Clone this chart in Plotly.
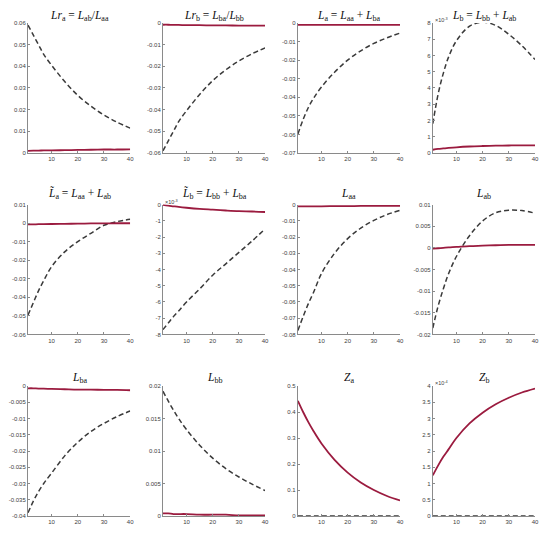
import plotly.graph_objects as go
from plotly.subplots import make_subplots

t = [1, 3, 5, 7, 10, 15, 20, 25, 30, 35, 40]

# dashed (grey) and solid (red) responses, one pair per panel
lra_dash = [0.059, 0.0545, 0.050, 0.0455, 0.0405, 0.033, 0.0266, 0.0216, 0.0175, 0.0142, 0.0115]
lra_solid = [0.0010, 0.0011, 0.0011, 0.0012, 0.0012, 0.0013, 0.0014, 0.0015, 0.0016, 0.0016, 0.0017]

lrb_dash = [-0.059, -0.0545, -0.050, -0.0455, -0.0405, -0.033, -0.0266, -0.0216, -0.0175, -0.0142, -0.0115]
lrb_solid = [-0.0008, -0.0008, -0.0009, -0.0009, -0.0010, -0.0010, -0.0011, -0.0011, -0.0012, -0.0012, -0.0012]

la_dash = [-0.0598, -0.052, -0.0455, -0.0405, -0.0345, -0.0265, -0.020, -0.015, -0.011, -0.008, -0.0054]
la_solid = [-0.0010, -0.0010, -0.0010, -0.0010, -0.0010, -0.0010, -0.0010, -0.0010, -0.0010, -0.0010, -0.0010]

lb_dash = [1.8e-3, 3.6e-3, 4.9e-3, 5.9e-3, 6.9e-3, 7.8e-3, 8.05e-3, 7.85e-3, 7.3e-3, 6.6e-3, 5.75e-3]
lb_solid = [0.20e-3, 0.25e-3, 0.28e-3, 0.31e-3, 0.35e-3, 0.40e-3, 0.43e-3, 0.45e-3, 0.46e-3, 0.47e-3, 0.47e-3]

lta_dash = [-0.0495, -0.043, -0.0365, -0.031, -0.0235, -0.0155, -0.0100, -0.0055, -0.0012, 0.0008, 0.0020]
lta_solid = [-0.0007, -0.0007, -0.0006, -0.0006, -0.0005, -0.0004, -0.0003, -0.0002, -0.0002, -0.0001, -0.0001]

ltb_dash = [-7.7e-3, -7.3e-3, -6.9e-3, -6.55e-3, -6.0e-3, -5.2e-3, -4.35e-3, -3.65e-3, -2.95e-3, -2.25e-3, -1.5e-3]
ltb_solid = [-0.02e-3, -0.07e-3, -0.11e-3, -0.15e-3, -0.20e-3, -0.27e-3, -0.32e-3, -0.37e-3, -0.41e-3, -0.43e-3, -0.46e-3]

laa_dash = [-0.0775, -0.069, -0.061, -0.054, -0.0425, -0.030, -0.021, -0.0145, -0.0098, -0.0062, -0.0036]
laa_solid = [-0.0012, -0.0012, -0.0011, -0.0011, -0.0011, -0.0010, -0.0010, -0.0009, -0.0009, -0.0008, -0.0008]

lab_dash = [-0.0185, -0.0135, -0.0095, -0.006, -0.002, 0.0028, 0.0062, 0.0081, 0.0087, 0.0086, 0.0080]
lab_solid = [-0.0002, -0.0001, 0.0000, 0.0001, 0.0002, 0.0004, 0.0005, 0.0006, 0.0007, 0.0007, 0.0007]

lba_dash = [-0.039, -0.0355, -0.0325, -0.030, -0.0268, -0.0215, -0.0173, -0.014, -0.0115, -0.0094, -0.0077]
lba_solid = [-0.0007, -0.0007, -0.0008, -0.0008, -0.0009, -0.0010, -0.0011, -0.0011, -0.0012, -0.0012, -0.0013]

lbb_dash = [0.0192, 0.0177, 0.0163, 0.015, 0.0133, 0.0109, 0.0089, 0.0073, 0.006, 0.0049, 0.0039]
lbb_solid = [0.0004, 0.0004, 0.0003, 0.0003, 0.0003, 0.0002, 0.0002, 0.0002, 0.0001, 0.0001, 0.0001]

za_dash = [0, 0, 0, 0, 0, 0, 0, 0, 0, 0, 0]
za_solid = [0.443, 0.400, 0.361, 0.326, 0.279, 0.216, 0.167, 0.129, 0.100, 0.077, 0.060]

zb_dash = [0, 0, 0, 0, 0, 0, 0, 0, 0, 0, 0]
zb_solid = [1.25e-4, 1.55e-4, 1.82e-4, 2.05e-4, 2.40e-4, 2.85e-4, 3.18e-4, 3.44e-4, 3.64e-4, 3.80e-4, 3.92e-4]

titles = [
    "<i>Lr</i><sub>a</sub> = <i>L</i><sub>ab</sub>/<i>L</i><sub>aa</sub>",
    "<i>Lr</i><sub>b</sub> = <i>L</i><sub>ba</sub>/<i>L</i><sub>bb</sub>",
    "<i>L</i><sub>a</sub> = <i>L</i><sub>aa</sub> + <i>L</i><sub>ba</sub>",
    "<i>L</i><sub>b</sub> = <i>L</i><sub>bb</sub> + <i>L</i><sub>ab</sub>",
    "<i>L\u0303</i><sub>a</sub> = <i>L</i><sub>aa</sub> + <i>L</i><sub>ab</sub>",
    "<i>L\u0303</i><sub>b</sub> = <i>L</i><sub>bb</sub> + <i>L</i><sub>ba</sub>",
    "<i>L</i><sub>aa</sub>",
    "<i>L</i><sub>ab</sub>",
    "<i>L</i><sub>ba</sub>",
    "<i>L</i><sub>bb</sub>",
    "<i>Z</i><sub>a</sub>",
    "<i>Z</i><sub>b</sub>",
]

# (dashed, solid, y min, y max, tick step, exponent)
panels = [
    (lra_dash, lra_solid, 0, 0.06, 0.01, 0),
    (lrb_dash, lrb_solid, -0.06, 0, 0.01, 0),
    (la_dash, la_solid, -0.07, 0, 0.01, 0),
    (lb_dash, lb_solid, 0, 8, 1, -3),
    (lta_dash, lta_solid, -0.06, 0.01, 0.01, 0),
    (ltb_dash, ltb_solid, -8, 0, 1, -3),
    (laa_dash, laa_solid, -0.08, 0, 0.01, 0),
    (lab_dash, lab_solid, -0.02, 0.01, 0.005, 0),
    (lba_dash, lba_solid, -0.04, 0, 0.005, 0),
    (lbb_dash, lbb_solid, 0, 0.02, 0.005, 0),
    (za_dash, za_solid, 0, 0.5, 0.1, 0),
    (zb_dash, zb_solid, 0, 4, 0.5, -4),
]

fig = make_subplots(rows=3, cols=4, subplot_titles=titles,
                    horizontal_spacing=0.0646, vertical_spacing=0.1045)

for i, (dash, solid, ymin, ymax, step, expo) in enumerate(panels):
    r, c = i // 4 + 1, i % 4 + 1
    scale = 10.0 ** (-expo)
    fig.add_trace(go.Scatter(x=t, y=[v * scale for v in dash], mode="lines",
                             line=dict(color="#3a3a3a", width=1.5, dash="5px,3px", shape="spline"),
                             showlegend=False), row=r, col=c)
    fig.add_trace(go.Scatter(x=t, y=[v * scale for v in solid], mode="lines",
                             line=dict(color="#9b1b3f", width=1.8, shape="spline"),
                             showlegend=False), row=r, col=c)
    n = int(round((ymax - ymin) / step))
    tv = [round(ymin + k * step, 6) for k in range(n + 1)]
    fig.update_yaxes(range=[ymin, ymax], tickvals=tv, ticktext=["{:g}".format(v) for v in tv],
                     row=r, col=c)
    if expo:
        xa = fig.get_subplot(r, c).xaxis.domain
        ya = fig.get_subplot(r, c).yaxis.domain
        fig.add_annotation(x=xa[0], y=ya[1], xref="paper", yref="paper",
                           xanchor="left", yanchor="bottom", showarrow=False,
                           text="\u00d710<sup>{}</sup>".format(expo), yshift=-2,
                           font=dict(family="Liberation Sans", size=5.5, color="#404040"))

axis_style = dict(showline=True, linecolor="#8a8a8a", linewidth=1, showgrid=False, zeroline=False,
                  ticks="inside", ticklen=2, tickcolor="#8a8a8a", mirror=False, automargin=False,
                  ticklabeloverflow="allow",
                  tickfont=dict(family="Liberation Sans", size=6, color="#404040"))
fig.update_xaxes(range=[1, 40], tickvals=[10, 20, 30, 40], **axis_style)
fig.update_yaxes(**axis_style)

row_shift = [-2, 2, -1]
for k, a in enumerate(fig.layout.annotations[:len(titles)]):
    a.font = dict(family="Liberation Serif", size=11.5, color="#111111")
    a.yshift = row_shift[k // 4]

# the page body adds an 8px margin, so the figure is drawn 16px smaller
fig.update_layout(width=534, height=516, margin=dict(l=20, r=7, t=15, b=8),
                  plot_bgcolor="white", paper_bgcolor="white")

fig.write_html("out.html")
